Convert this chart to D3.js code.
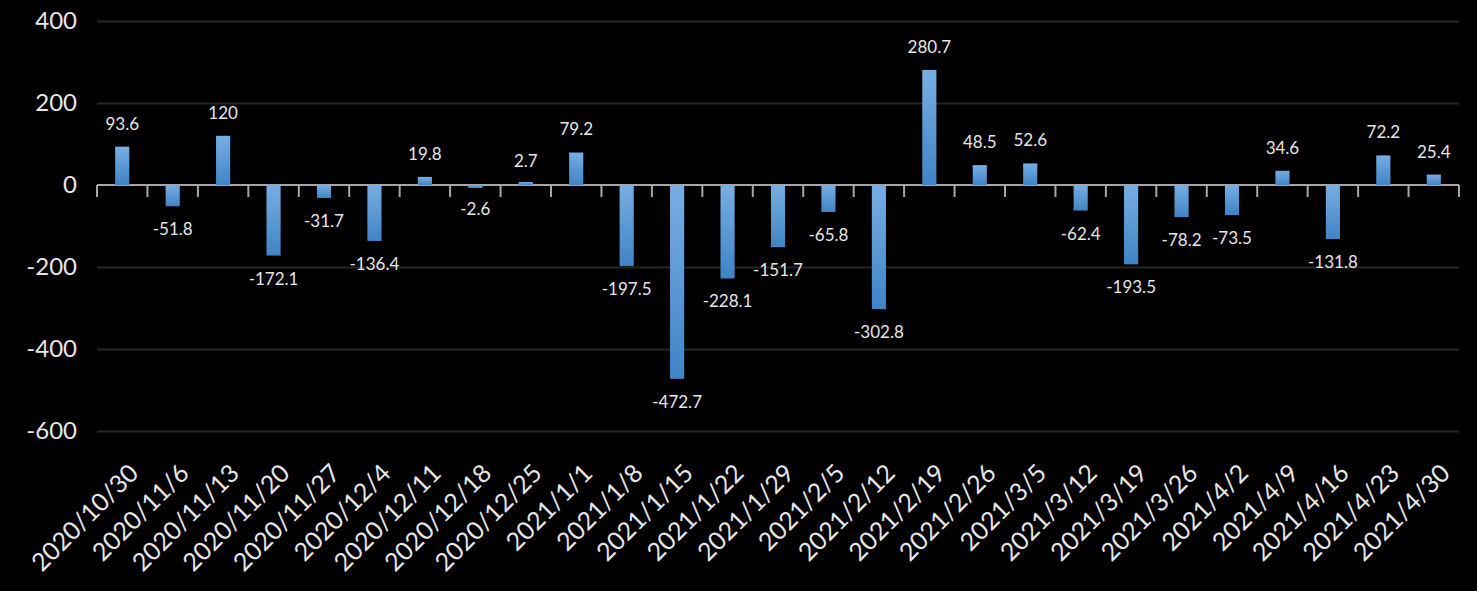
<!DOCTYPE html>
<html>
<head>
<meta charset="utf-8">
<script src="https://cdn.jsdelivr.net/npm/d3@7"></script>
<style>
  html, body { margin: 0; padding: 0; background: #000; }
  svg { display: block; }
</style>
</head>
<body>
<svg id="chart" width="1477" height="591"></svg>
<script>
const categories = ["2020/10/30","2020/11/6","2020/11/13","2020/11/20","2020/11/27","2020/12/4","2020/12/11","2020/12/18","2020/12/25","2021/1/1","2021/1/8","2021/1/15","2021/1/22","2021/1/29","2021/2/5","2021/2/12","2021/2/19","2021/2/26","2021/3/5","2021/3/12","2021/3/19","2021/3/26","2021/4/2","2021/4/9","2021/4/16","2021/4/23","2021/4/30"];
const values = [93.6,-51.8,120,-172.1,-31.7,-136.4,19.8,-2.6,2.7,79.2,-197.5,-472.7,-228.1,-151.7,-65.8,-302.8,280.7,48.5,52.6,-62.4,-193.5,-78.2,-73.5,34.6,-131.8,72.2,25.4];
const valueLabels = ["93.6","-51.8","120","-172.1","-31.7","-136.4","19.8","-2.6","2.7","79.2","-197.5","-472.7","-228.1","-151.7","-65.8","-302.8","280.7","48.5","52.6","-62.4","-193.5","-78.2","-73.5","34.6","-131.8","72.2","25.4"];
const yTicks = [400, 200, 0, -200, -400, -600];

const svg = d3.select("#chart");
const mLeft = 97, mRight = 1459, mTop = 21, mBottom = 431;

const x = d3.scaleBand().domain(categories).range([mLeft, mRight]).paddingInner(0).paddingOuter(0);
const y = d3.scaleLinear().domain([-600, 400]).range([mBottom, mTop]);

const defs = svg.append("defs");
const grad = defs.append("linearGradient").attr("id", "barGrad")
  .attr("x1", 0).attr("y1", 0).attr("x2", 0).attr("y2", 1);
grad.append("stop").attr("offset", "0%").attr("stop-color", "#78aee2");
grad.append("stop").attr("offset", "100%").attr("stop-color", "#3f84c6");

const font = "Lato, 'Open Sans', sans-serif";

// gridlines
const yAxis = d3.axisLeft(y).tickValues(yTicks).tickSize(-(mRight - mLeft)).tickFormat(d => d);
const gy = svg.append("g").attr("transform", `translate(${mLeft},0)`).call(yAxis);
gy.select(".domain").remove();
gy.selectAll(".tick line").attr("stroke", "#262626").attr("stroke-width", 2)
  .attr("display", d => d === 0 ? "none" : null);
gy.selectAll(".tick text").attr("x", -20).attr("fill", "#e6e6e6")
  .style("font-family", font).style("font-size", "24px");

// zero axis with ticks at band boundaries
const boundaries = categories.map(c => x(c)).concat([mRight]);
const gx = svg.append("g");
gx.append("line").attr("x1", mLeft).attr("x2", mRight).attr("y1", y(0)).attr("y2", y(0))
  .attr("stroke", "#a6a6a6").attr("stroke-width", 2);
gx.selectAll("line.tk").data(boundaries).join("line").attr("class", "tk")
  .attr("x1", d => d).attr("x2", d => d).attr("y1", y(0)).attr("y2", y(0) + 12)
  .attr("stroke", "#a6a6a6").attr("stroke-width", 2);

// bars (drawn over the zero line, as in the reference)
const barW = x.bandwidth() * 0.28;
const minH = 3;
svg.append("g").selectAll("rect").data(values).join("rect")
  .attr("x", (d, i) => x(categories[i]) + (x.bandwidth() - barW) / 2)
  .attr("y", d => d >= 0 ? Math.min(y(d), y(0) - minH) : y(0))
  .attr("width", barW)
  .attr("height", d => Math.max(Math.abs(y(d) - y(0)), minH))
  .attr("fill", "url(#barGrad)");

// data labels
svg.append("g").selectAll("text").data(values).join("text")
  .attr("x", (d, i) => x(categories[i]) + x.bandwidth() / 2)
  .attr("y", d => d >= 0 ? y(d) - 23 : y(d) + 23)
  .attr("dy", "0.35em")
  .attr("text-anchor", "middle")
  .attr("fill", "#e6e6e6")
  .style("font-family", font).style("font-size", "17px")
  .text((d, i) => valueLabels[i]);

// category labels
svg.append("g").selectAll("text").data(categories).join("text")
  .attr("transform", c => `translate(${x(c) + x.bandwidth() / 2 + 5},${462}) rotate(-45)`)
  .attr("text-anchor", "end")
  .attr("dy", "0.72em")
  .attr("fill", "#e6e6e6")
  .style("font-family", font).style("font-size", "25px")
  .text(c => c);
</script>
</body>
</html>
